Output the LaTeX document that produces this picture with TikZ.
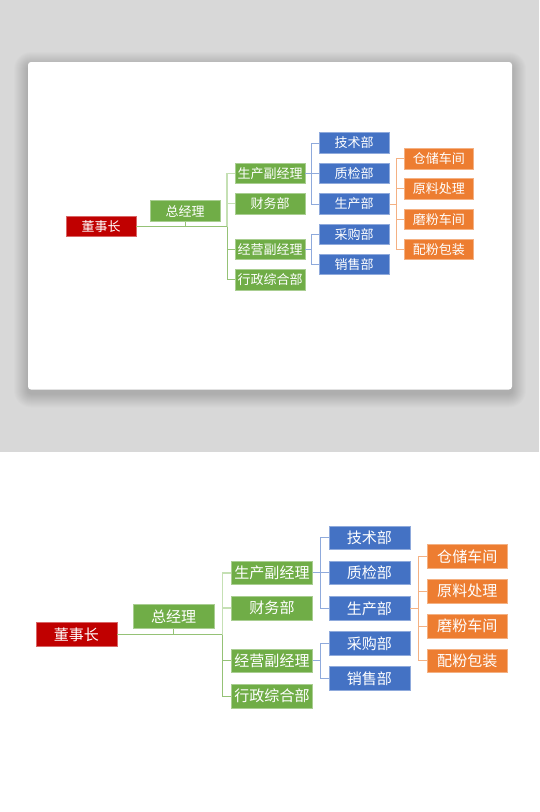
\documentclass[tikz,border=0pt]{standalone}
\usepackage{fontspec}
\newfontfamily\cjk{Noto Sans CJK SC}
\definecolor{cred}{HTML}{C00000}
\definecolor{cgreen}{HTML}{70AD47}
\definecolor{cblue}{HTML}{4472C4}
\definecolor{corange}{HTML}{ED7D31}
\definecolor{lgreen}{HTML}{95C276}
\definecolor{lgreenb}{HTML}{C5E0B4}
\definecolor{lblue}{HTML}{8FAADC}
\definecolor{lorange}{HTML}{F4B183}
\definecolor{bggray}{HTML}{D8D8D8}
\tikzset{
  box/.style={rectangle, inner sep=0pt, minimum width=70pt, minimum height=20.5pt,
    text=white, font=\cjk\fontsize{13}{13}\selectfont,
    fill=#1, draw=#1!60!white, line width=0.6pt},
  gline/.style={draw=lgreen, line width=1pt},
  glineb/.style={draw=lgreenb, line width=1.4pt},
  bline/.style={draw=lblue, line width=1pt},
  oline/.style={draw=lorange, line width=1pt},
}
\newcommand\orgchart{%
  \node[box=cred] (dsz) at (101,226.5) {董事长};
  \node[box=cgreen] (zjl) at (185,211) {总经理};
  \node[box=cgreen] (g1) at (270,173.3) {生产副经理};
  \node[box=cgreen] (g2) at (270,203.7) {财务部};
  \node[box=cgreen] (g3) at (270,249.2) {经营副经理};
  \node[box=cgreen] (g4) at (270,279.7) {行政综合部};
  \node[box=cblue] (b1) at (354.2,143) {技术部};
  \node[box=cblue] (b2) at (354.2,173.3) {质检部};
  \node[box=cblue] (b3) at (354.2,204) {生产部};
  \node[box=cblue] (b4) at (354.2,234.2) {采购部};
  \node[box=cblue] (b5) at (354.2,264.5) {销售部};
  \node[box=corange, minimum width=69pt] (o1) at (438.8,158.9) {仓储车间};
  \node[box=corange, minimum width=69pt] (o2) at (438.8,188.9) {原料处理};
  \node[box=corange, minimum width=69pt] (o3) at (438.8,219.3) {磨粉车间};
  \node[box=corange, minimum width=69pt] (o4) at (438.8,249.3) {配粉包装};
  \coordinate (gb) at (227,226.5);
  \coordinate (bb) at (311.7,0);
  \coordinate (ob) at (396.7,0);
  % green connectors
  \draw[glineb] (gb) -- (gb |- g1.west) -- (g1.west);
  \draw[glineb] (gb |- g2.west) -- (g2.west);
  \draw[gline] (dsz.east) -- (gb);
  \draw[gline] (zjl.south) -- (zjl.south |- gb);
  \draw[gline] (gb) -- (gb |- g4.west) -- (g4.west);
  \draw[gline] (gb |- g3.west) -- (g3.west);
  % blue connectors
  \draw[bline] (b1.west) -- (b1.west -| bb) |- (b3.west);
  \draw[bline] (b2.west) -- (b2.west -| bb);
  \draw[bline] (g1.east) -- (g1.east -| bb);
  \draw[bline] (b4.west) -- (b4.west -| bb) |- (b5.west);
  \draw[bline] (g3.east) -- (g3.east -| bb);
  % orange connectors
  \draw[oline] (o1.west) -- (o1.west -| ob) |- (o4.west);
  \draw[oline] (o2.west) -- (o2.west -| ob);
  \draw[oline] (o3.west) -- (o3.west -| ob);
  \draw[oline] (b3.east) -- (b3.east -| ob);
}
\begin{document}
\begin{tikzpicture}[x=1pt, y=-1pt]
  \useasboundingbox (0,0) rectangle (539,812);
  \fill[white] (0,0) rectangle (539,812);
  \fill[bggray] (0,0) rectangle (539,452);
  % soft shadow of the card
  \foreach \i in {1,...,14}{
    \fill[black, opacity=0.011, rounded corners={3pt+\i pt}]
      (28-\i,62-\i+4) rectangle (512+\i,389.5+\i+4);
  }
  \fill[white, rounded corners=3pt] (28,62) rectangle (512,389.5);
  \begin{scope}[name prefix=t-]
    \orgchart
  \end{scope}
  \begin{scope}[shift={(-40.4,372.4)}, scale=1.157, transform shape, name prefix=b-]
    \orgchart
  \end{scope}
\end{tikzpicture}
\end{document}
